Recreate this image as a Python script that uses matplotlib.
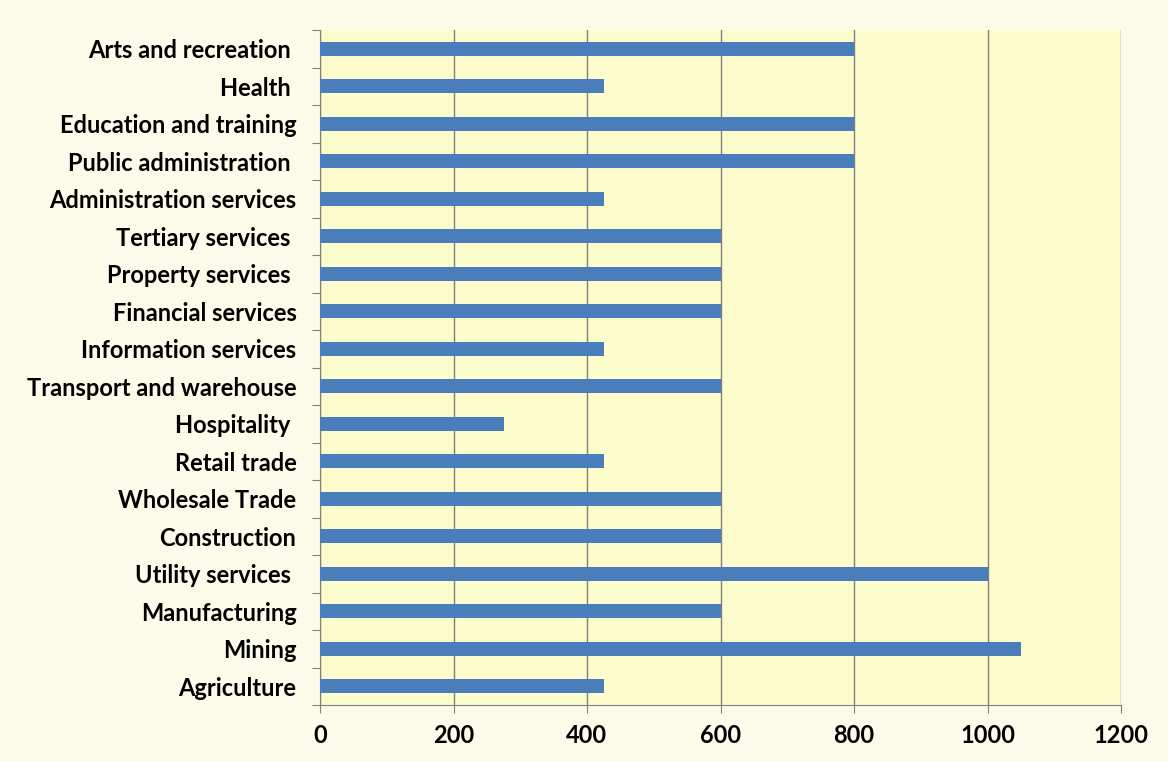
"""Horizontal bar chart of values by industry sector."""

import matplotlib.pyplot as plt

sectors = [
    "Agriculture",
    "Mining",
    "Manufacturing",
    "Utility services ",
    "Construction",
    "Wholesale Trade",
    "Retail trade",
    "Hospitality ",
    "Transport and warehouse",
    "Information services",
    "Financial services",
    "Property services ",
    "Tertiary services ",
    "Administration services",
    "Public administration ",
    "Education and training",
    "Health ",
    "Arts and recreation ",
]
values = [425, 1050, 600, 1000, 600, 600, 425, 275, 600, 425, 600, 600, 600,
          425, 800, 800, 425, 800]
x_ticks = [0, 200, 400, 600, 800, 1000, 1200]

plt.rcParams["font.family"] = ["Lato", "DejaVu Sans"]

fig = plt.figure(figsize=(11.68, 7.61), dpi=100, facecolor="#fcfbe9")
ax = fig.add_axes([320 / 1168, 56 / 761, 801 / 1168, 675 / 761])
ax.set_facecolor("#fdfccd")

ypos = list(range(len(sectors)))
ax.barh(ypos, values, height=0.38, color="#4a7ebb", zorder=3)

ax.set_xlim(0, 1200)
ax.set_ylim(-0.5, len(sectors) - 0.5)
ax.set_xticks(x_ticks)
ax.set_xticklabels([str(t) for t in x_ticks], fontsize=17, fontweight="bold")
ax.set_yticks([y + 0.5 for y in range(-1, len(sectors))], minor=False)
ax.set_yticklabels([])
ax.set_yticks(ypos, minor=True)
ax.set_yticklabels(sectors, minor=True, fontsize=17, fontweight="bold")
ax.tick_params(axis="y", which="minor", length=0, pad=17)
ax.tick_params(axis="y", which="major", length=6, color="#808080")
ax.tick_params(axis="x", length=6, color="#808080", pad=8)

ax.grid(axis="x", color="#7f7f7f", linewidth=1, zorder=1)
for side in ["top", "right"]:
    ax.spines[side].set_visible(False)
for side in ["left", "bottom"]:
    ax.spines[side].set_color("#808080")

fig.savefig("out.png", dpi=100, facecolor=fig.get_facecolor())
